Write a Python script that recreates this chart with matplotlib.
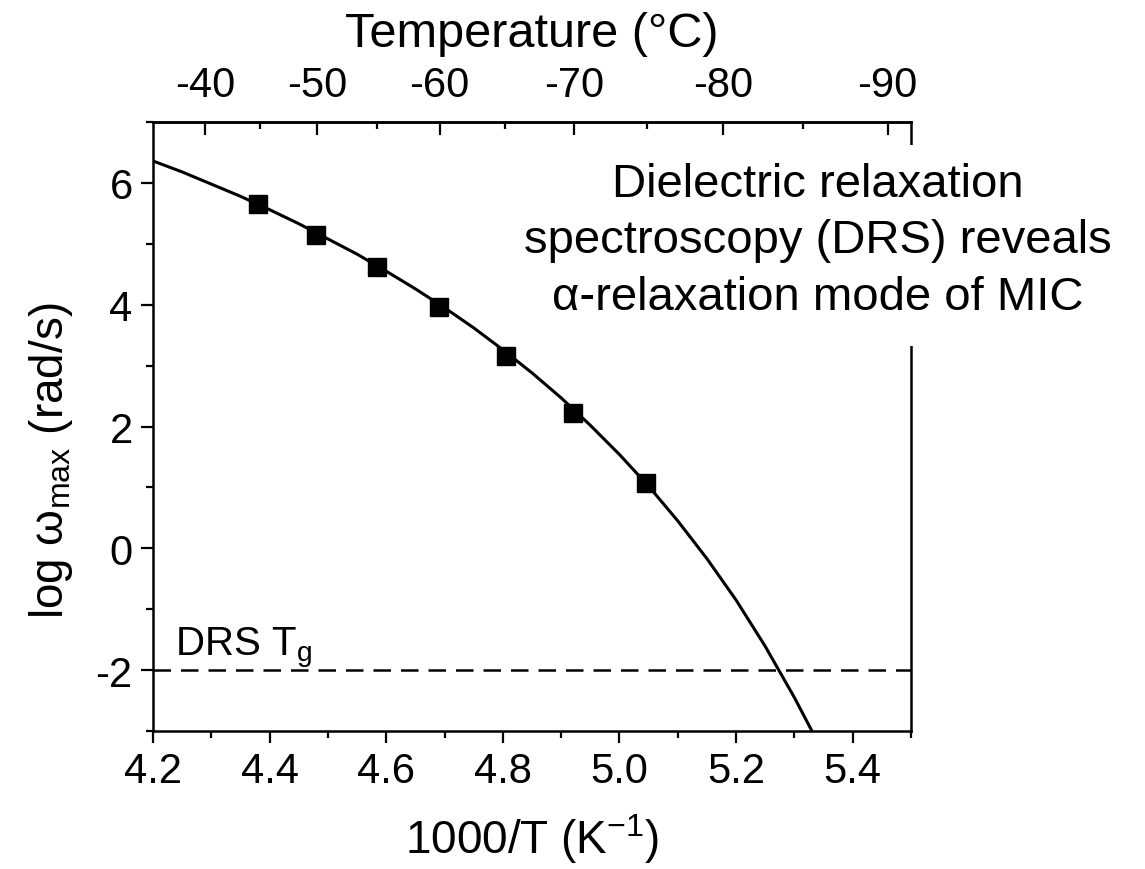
import matplotlib
matplotlib.use("Agg")
import matplotlib.pyplot as plt
from matplotlib.ticker import MultipleLocator, FixedLocator
from matplotlib.patches import Rectangle

plt.rcParams['font.family'] = ['Liberation Sans', 'DejaVu Sans']
plt.rcParams['mathtext.fontset'] = 'custom'
plt.rcParams['mathtext.rm'] = 'Liberation Sans'
plt.rcParams['mathtext.it'] = 'Liberation Sans'
plt.rcParams['mathtext.default'] = 'rm'

# measured points (1000/T, log omega_max)
inv_T = [4.38, 4.48, 4.585, 4.69, 4.805, 4.92, 5.045]
log_w = [5.65, 5.15, 4.62, 3.97, 3.15, 2.22, 1.07]

# fitted curve
curve_x = [4.20, 4.25, 4.30, 4.35, 4.40, 4.45, 4.50, 4.55, 4.60, 4.65, 4.70,
           4.75, 4.80, 4.85, 4.90, 4.95, 5.00, 5.05, 5.10, 5.15, 5.20, 5.25,
           5.30, 5.335]
curve_y = [6.36, 6.18, 5.98, 5.78, 5.56, 5.33, 5.08, 4.83, 4.55, 4.26, 3.95,
           3.62, 3.26, 2.88, 2.47, 2.02, 1.54, 1.02, 0.45, -0.17, -0.85, -1.61,
           -2.45, -3.09]

tg_level = -2
x_ticks = [4.2, 4.4, 4.6, 4.8, 5.0, 5.2, 5.4]
y_ticks = [-2, 0, 2, 4, 6]
temp_ticks = [-40, -50, -60, -70, -80, -90]
temp_minor = [-45, -55, -65, -75, -85]
note_lines = ["Dielectric relaxation", "spectroscopy (DRS) reveals", "α-relaxation mode of MIC"]

W, H = 1145, 870
fig = plt.figure(figsize=(W / 100, H / 100), dpi=100)
ax = fig.add_axes([153 / W, 1 - 732 / H, (911 - 153) / W, (732 - 123) / H])

ax.plot(curve_x, curve_y, color='black', lw=2.2, zorder=3)
ax.plot(inv_T, log_w, linestyle='none', marker='s', ms=13, color='black', zorder=4)
ax.axhline(tg_level, color='black', lw=1.8, dashes=(7, 4), zorder=2)

ax.set_xlim(4.2, 5.5)
ax.set_ylim(-3, 7)
ax.set_xticks(x_ticks)
ax.set_xticklabels([f"{v:.1f}" for v in x_ticks])
ax.set_yticks(y_ticks)
ax.set_yticklabels([str(v) for v in y_ticks])
ax.xaxis.set_minor_locator(MultipleLocator(0.1))
ax.yaxis.set_minor_locator(MultipleLocator(1))
ax.tick_params(which='major', direction='out', length=8.6, width=1.6, labelsize=30, pad=6)
ax.tick_params(which='minor', direction='out', length=5, width=1.6)
for s in ax.spines.values():
    s.set_linewidth(1.8)

ax.set_xlabel("1000/T (K$^{-1}$)", fontsize=33, labelpad=14)
ax.set_ylabel("log ω$_{\\mathrm{max}}$ (rad/s)", fontsize=33)
ax.yaxis.set_label_coords(-0.103, 0.445)

sec = ax.secondary_xaxis('top', functions=(lambda x: 1000.0 / x - 273.15,
                                           lambda c: 1000.0 / (c + 273.15)))
sec.set_xticks(temp_ticks)
sec.set_xticklabels([str(v) for v in temp_ticks])
sec.xaxis.set_minor_locator(FixedLocator(temp_minor))
sec.tick_params(which='major', direction='in', length=9.5, width=1.6, labelsize=30, pad=12)
sec.tick_params(which='minor', direction='in', length=5, width=1.6)
sec.spines['top'].set_linewidth(1.8)
sec.set_xlabel("Temperature (°C)", fontsize=35, labelpad=14)

ax.text(4.238, -1.75, "DRS T$_\\mathrm{g}$", fontsize=29, ha='left', va='baseline')

# white patch interrupting the right frame behind the note
ax.add_patch(Rectangle((0.97, 0.632), 0.06, 0.33, transform=ax.transAxes,
                       facecolor='white', edgecolor='none', clip_on=False, zorder=6))
for line, ypx in zip(note_lines, [197, 253, 310]):
    fig.text(818 / W, 1 - ypx / H, line, fontsize=34, ha='center', va='baseline', zorder=10)

fig.savefig("out.png", dpi=100)
